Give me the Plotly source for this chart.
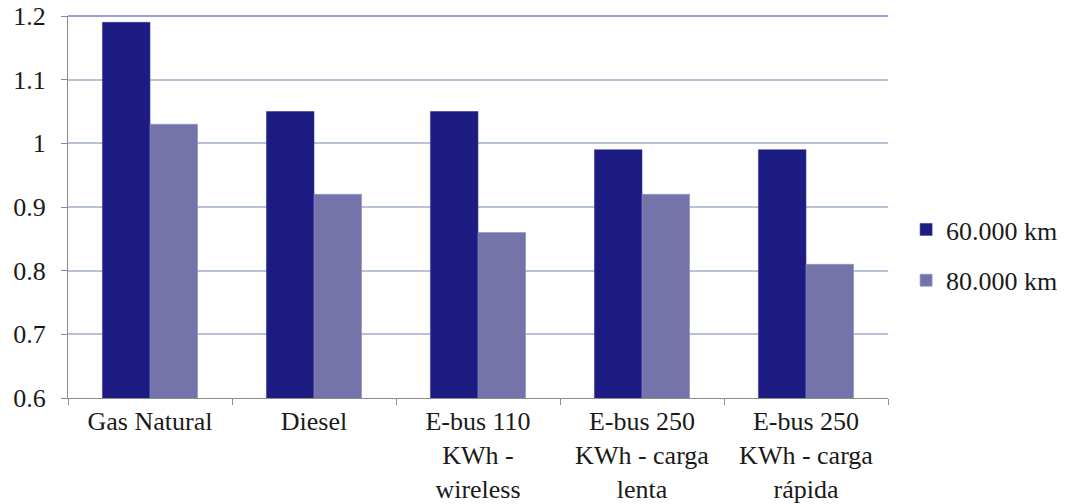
import plotly.graph_objects as go

categories = ["Gas Natural", "Diesel", "E-bus 110<br>KWh -<br>wireless",
              "E-bus 250<br>KWh - carga<br>lenta", "E-bus 250<br>KWh - carga<br>rápida"]
km_60000 = [1.19, 1.05, 1.05, 0.99, 0.99]
km_80000 = [1.03, 0.92, 0.86, 0.92, 0.81]
y_ticks = [0.6, 0.7, 0.8, 0.9, 1, 1.1, 1.2]
y_tick_text = ["0.6", "0.7", "0.8", "0.9", "1", "1.1", "1.2"]

font = dict(family="Liberation Serif", size=26, color="#1a1a1a")

fig = go.Figure()
fig.add_trace(go.Bar(x=categories, y=km_60000, name="60.000 km", legendgroup="a",
                     marker=dict(color="#1b1b82", line=dict(width=0.6, color="#3a3aa0"))))
fig.add_trace(go.Bar(x=categories, y=km_80000, name="80.000 km", legendgroup="b",
                     marker=dict(color="#7474aa", line=dict(width=0.6, color="#9090c0"))))

fig.update_layout(
    width=1066, height=504,
    margin=dict(l=68, r=178, t=16, b=106),
    paper_bgcolor="white", plot_bgcolor="white",
    font=font,
    barmode="group", bargap=0.42, bargroupgap=0,
    legend=dict(xref="container", yref="container", x=0.85, y=0.494,
                xanchor="left", yanchor="middle",
                font=font, itemwidth=30, tracegroupgap=14),
    xaxis=dict(showline=True, linecolor="#8c8c8c", linewidth=1.2,
               ticks="outside", tickson="boundaries", ticklen=6, tickcolor="#8c8c8c",
               showgrid=False, tickangle=0, automargin=False, tickfont=font),
    yaxis=dict(range=[0.6, 1.2], tickvals=y_ticks, ticktext=y_tick_text,
               showline=True, linecolor="#8c8c8c", linewidth=1.2,
               ticks="outside", ticklen=6, tickcolor="#8c8c8c",
               showgrid=True, gridcolor="#b9c1d9", gridwidth=1.5, zeroline=False,
               automargin=False, tickfont=font, ticklabeloverflow="allow",
               ticklabelstandoff=10),
)

# blue border line along the top of the plot area
fig.add_shape(type="line", xref="paper", yref="y domain", x0=0, x1=1, y0=1, y1=1,
              line=dict(color="#7d80d4", width=1.5))

# drop the default page margin so the figure sits at the window corner
fig.write_html("out.html", config={"displayModeBar": False},
               post_script="document.body.style.margin = '0';")
